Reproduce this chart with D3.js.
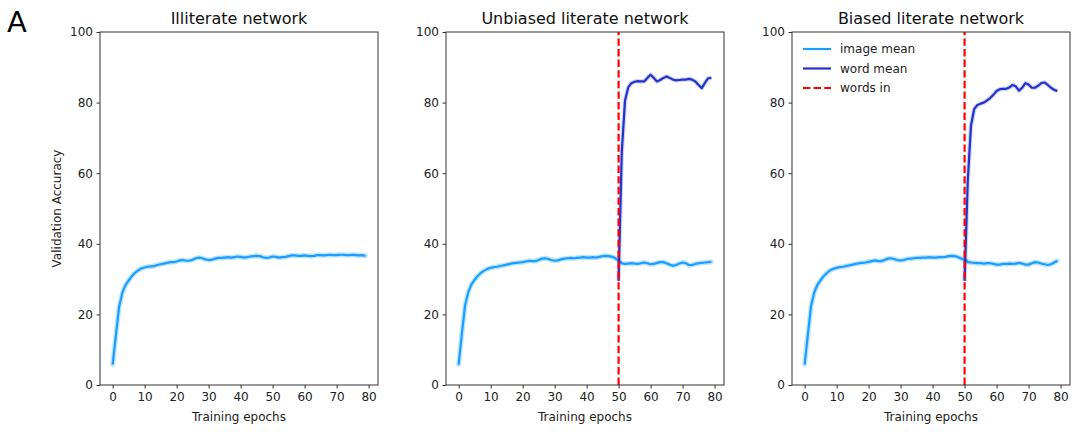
<!DOCTYPE html>
<html>
<head>
<meta charset="utf-8">
<script src="https://cdn.jsdelivr.net/npm/d3@7"></script>
<style>
  html, body { margin: 0; padding: 0; background: #fff; }
  svg { display: block; font-family: "DejaVu Sans", sans-serif; }
</style>
</head>
<body>
<svg id="chart" width="1076" height="432"></svg>
<script>
// Panel titles
const panelTitles = ["Illiterate network", "Unbiased literate network", "Biased literate network"];

// Tick values
const xTicks = [0, 10, 20, 30, 40, 50, 60, 70, 80];
const yTicks = [0, 20, 40, 60, 80, 100];

// Epoch at which words are introduced
const wordsInEpoch = 50;

// Mean validation accuracy on images, epochs 0..79
const illiterateImage = [
  5.8, 14.0, 22.0, 26.0, 28.3, 29.6, 30.8, 31.8, 32.5, 33.0,
  33.3, 33.5, 33.6, 33.7, 34.0, 34.2, 34.4, 34.6, 34.8, 34.8,
  35.0, 35.3, 35.4, 35.2, 35.2, 35.5, 35.9, 36.1, 35.9, 35.6,
  35.4, 35.5, 35.8, 36.0, 36.0, 36.1, 36.2, 36.1, 36.2, 36.4,
  36.3, 36.1, 36.2, 36.4, 36.5, 36.6, 36.5, 36.2, 36.0, 36.1,
  36.4, 36.3, 36.1, 36.2, 36.3, 36.5, 36.7, 36.7, 36.6, 36.6,
  36.7, 36.6, 36.5, 36.6, 36.8, 36.8, 36.7, 36.8, 36.9, 36.8,
  36.8, 36.9, 36.9, 36.8, 36.8, 36.9, 36.8, 36.7, 36.8, 36.6
];

const unbiasedImage = [
  5.8, 14.5, 22.5, 26.3, 28.5, 29.8, 30.9, 31.8, 32.4, 32.9,
  33.2, 33.4, 33.5, 33.7, 33.9, 34.1, 34.3, 34.5, 34.6, 34.7,
  34.8, 35.0, 35.2, 35.1, 35.1, 35.4, 35.8, 35.9, 35.7, 35.4,
  35.2, 35.3, 35.6, 35.8, 35.9, 36.0, 35.9, 36.0, 36.1, 36.2,
  36.1, 36.1, 36.2, 36.1, 36.3, 36.5, 36.6, 36.5, 36.3, 35.9,
  35.2, 34.5, 34.3, 34.4, 34.5, 34.4, 34.3, 34.5, 34.7, 34.5,
  34.2, 34.3, 34.6, 34.8, 34.8, 34.5, 34.1, 33.8, 34.0, 34.4,
  34.7, 34.5, 34.0, 34.0, 34.3, 34.5, 34.6, 34.7, 34.8, 34.9
];

const biasedImage = [
  5.8, 14.2, 22.3, 26.2, 28.4, 29.7, 30.9, 31.8, 32.5, 32.9,
  33.2, 33.4, 33.5, 33.7, 33.9, 34.1, 34.3, 34.5, 34.6, 34.7,
  34.9, 35.1, 35.3, 35.1, 35.1, 35.4, 35.8, 35.9, 35.7, 35.4,
  35.3, 35.4, 35.7, 35.8, 35.9, 36.0, 36.0, 36.1, 36.1, 36.2,
  36.1, 36.1, 36.2, 36.2, 36.3, 36.5, 36.6, 36.5, 36.2, 35.8,
  35.4, 34.9, 34.7, 34.6, 34.5, 34.5, 34.4, 34.5, 34.5, 34.3,
  34.1, 34.1, 34.3, 34.3, 34.4, 34.3, 34.4, 34.6, 34.4, 34.1,
  34.1, 34.5, 34.8, 34.7, 34.4, 34.2, 34.0, 34.2, 34.7, 35.2
];

// Mean validation accuracy on words, epochs 50..79
const unbiasedWord = [
  29.5, 66.0, 80.5, 84.3, 85.5, 85.9, 86.1, 86.0, 86.0, 87.0,
  87.9, 87.0, 86.0, 86.4, 87.0, 87.4, 87.0, 86.5, 86.3, 86.4,
  86.5, 86.5, 86.7, 86.5, 86.0, 85.0, 84.1, 85.6, 86.9, 87.0
];

const biasedWord = [
  29.5, 58.0, 73.5, 78.2, 79.3, 79.7, 80.0, 80.6, 81.3, 82.2,
  83.3, 83.8, 83.9, 83.9, 84.3, 85.0, 84.6, 83.4, 84.2, 85.5,
  85.1, 84.2, 84.2, 84.8, 85.5, 85.7, 85.0, 84.2, 83.6, 83.3
];

const legendLabels = ["image mean", "word mean", "words in"];

const imageColor = "#1a9fff";
const wordColor = "#2233cc";
const markerColor = "#ff0000";

const imageEpochs = d3.range(illiterateImage.length);
const wordEpochs = d3.range(wordsInEpoch, wordsInEpoch + unbiasedWord.length);

const panels = [
  { title: panelTitles[0], image: illiterateImage, word: null },
  { title: panelTitles[1], image: unbiasedImage, word: unbiasedWord },
  { title: panelTitles[2], image: biasedImage, word: biasedWord, legend: true }
];

const svg = d3.select("#chart");
const panelLeft = [100, 446, 792];
const panelWidth = 278;
const plotTop = 32, plotBottom = 385;

// Panel letter
svg.append("text").attr("x", 7).attr("y", 32)
  .attr("font-size", 29).attr("fill", "#000").text("A");

// Shared y-axis label
svg.append("text")
  .attr("transform", `translate(61,${(plotTop + plotBottom) / 2}) rotate(-90)`)
  .attr("text-anchor", "middle").attr("font-size", 12).attr("fill", "#222")
  .text("Validation Accuracy");

// x-range padded like matplotlib's 5% margin on 0..79
const xMin = -0.05 * 79, xMax = 79 + 0.05 * 79;

panels.forEach((p, i) => {
  const x0 = panelLeft[i];
  const x = d3.scaleLinear().domain([xMin, xMax]).range([x0, x0 + panelWidth]);
  const y = d3.scaleLinear().domain([0, 100]).range([plotBottom, plotTop]);
  const g = svg.append("g");

  const line = d3.line().x(d => x(d[0])).y(d => y(d[1]));

  const imgPts = imageEpochs.map((e, k) => [e, p.image[k]]);
  // soft band around image mean
  g.append("path").datum(imgPts).attr("d", line)
    .attr("fill", "none").attr("stroke", imageColor).attr("stroke-opacity", 0.28)
    .attr("stroke-width", 5).attr("stroke-linejoin", "round").attr("stroke-linecap", "round");
  g.append("path").datum(imgPts).attr("d", line)
    .attr("fill", "none").attr("stroke", imageColor)
    .attr("stroke-width", 2.2).attr("stroke-linejoin", "round");

  if (p.word) {
    const wPts = wordEpochs.map((e, k) => [e, p.word[k]]);
    g.append("path").datum(wPts).attr("d", line)
      .attr("fill", "none").attr("stroke", wordColor).attr("stroke-opacity", 0.2)
      .attr("stroke-width", 4.5).attr("stroke-linejoin", "round");
    g.append("path").datum(wPts).attr("d", line)
      .attr("fill", "none").attr("stroke", wordColor)
      .attr("stroke-width", 2.2).attr("stroke-linejoin", "round");

    g.append("line")
      .attr("x1", x(wordsInEpoch)).attr("x2", x(wordsInEpoch))
      .attr("y1", y(0)).attr("y2", y(100))
      .attr("stroke", markerColor).attr("stroke-width", 2.2)
      .attr("stroke-dasharray", "7.4,3.2");
  }

  // Axes
  const xAxis = d3.axisBottom(x).tickValues(xTicks).tickSize(3.5).tickPadding(3.5);
  const yAxis = d3.axisLeft(y).tickValues(yTicks).tickSize(3.5).tickPadding(3.5);
  const gx = g.append("g").attr("transform", `translate(0,${plotBottom})`).call(xAxis);
  const gy = g.append("g").attr("transform", `translate(${x0},0)`).call(yAxis);
  [gx, gy].forEach(a => {
    a.select(".domain").remove();
    a.selectAll("line").attr("stroke", "#333");
    a.selectAll("text").attr("font-size", 12).attr("fill", "#222")
      .attr("font-family", "DejaVu Sans, sans-serif");
  });

  // Frame
  g.append("rect").attr("x", x0).attr("y", plotTop)
    .attr("width", panelWidth).attr("height", plotBottom - plotTop)
    .attr("fill", "none").attr("stroke", "#333").attr("stroke-width", 1);

  // Title
  g.append("text").attr("x", x0 + panelWidth / 2).attr("y", 24)
    .attr("text-anchor", "middle").attr("font-size", 16).attr("fill", "#111")
    .text(p.title);

  // x label
  g.append("text").attr("x", x0 + panelWidth / 2).attr("y", 421)
    .attr("text-anchor", "middle").attr("font-size", 12).attr("fill", "#222")
    .text("Training epochs");

  if (p.legend) {
    const styles = [
      { color: imageColor, dash: null },
      { color: wordColor, dash: null },
      { color: markerColor, dash: "7.4,3.2" }
    ];
    legendLabels.forEach((lab, k) => {
      const ly = 49 + k * 19.5;
      g.append("line").attr("x1", x0 + 11).attr("x2", x0 + 39)
        .attr("y1", ly).attr("y2", ly)
        .attr("stroke", styles[k].color).attr("stroke-width", 2.2)
        .attr("stroke-dasharray", styles[k].dash);
      g.append("text").attr("x", x0 + 48).attr("y", ly + 4.3)
        .attr("font-size", 12).attr("fill", "#222").text(lab);
    });
  }
});
</script>
</body>
</html>
